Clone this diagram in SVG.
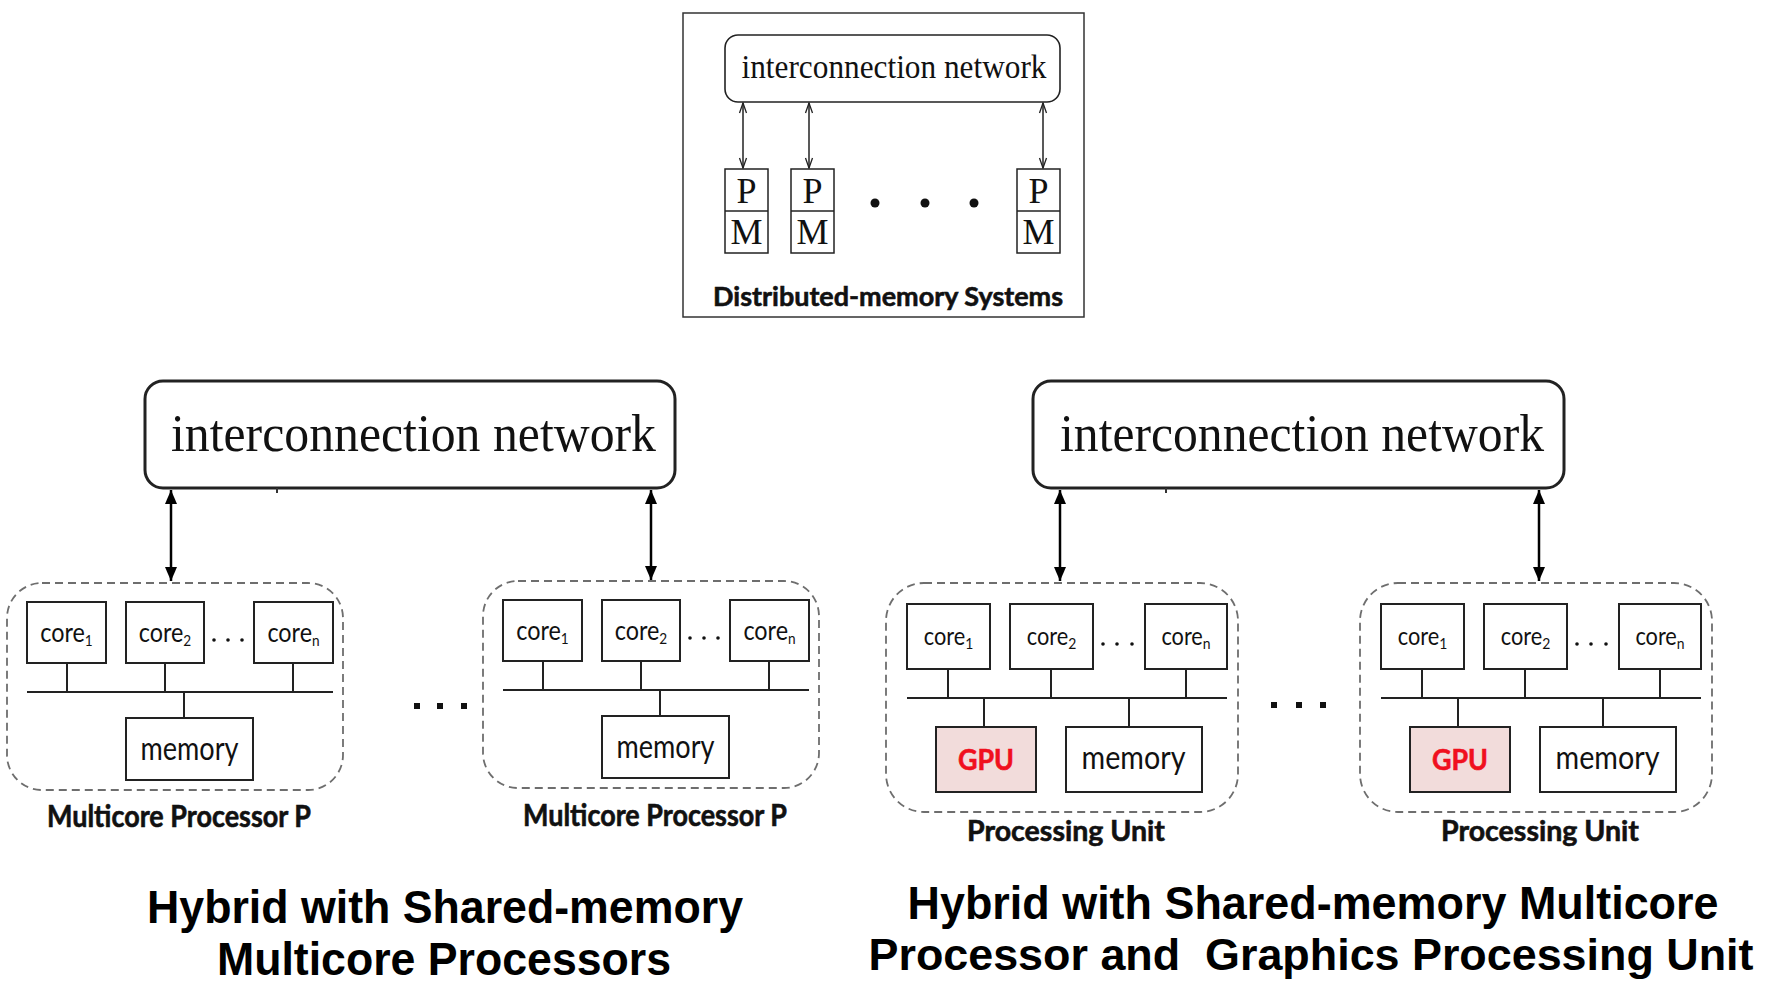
<svg xmlns="http://www.w3.org/2000/svg" width="1774" height="986" viewBox="0 0 1774 986">
<style>
.ser{font-family:"Liberation Serif","Times New Roman",serif;fill:#111}
.lab{font-family:Lato,"Open Sans",sans-serif;fill:#111}
.bold{font-weight:bold;stroke:#111;stroke-width:0.6}
.title{font-family:"Liberation Sans",Arial,sans-serif;font-weight:bold;font-size:47px;fill:#000}
.box{fill:#fff;stroke:#222;stroke-width:2}
.gpu{fill:#f2dcdb;stroke:#222;stroke-width:2}
.gput{fill:#f0101e;stroke:#f0101e}
.dash{fill:none;stroke:#6e6e6e;stroke-width:1.8;stroke-dasharray:8 5}
.net{fill:#fff;stroke:#222;stroke-width:3}
.wire{stroke:#222;stroke-width:2;fill:none}
.arr{stroke:#000;stroke-width:2.5;fill:none;marker-start:url(#ah);marker-end:url(#ah)}
.arr2{stroke:#222;stroke-width:1.5;fill:none;marker-start:url(#oh);marker-end:url(#oh)}
.dot{fill:#111}
.cl{font-size:27.5px;text-anchor:middle}
.cr{font-size:25px;text-anchor:middle}
.sub{font-size:16px}
</style>
<defs>
<marker id="ah" viewBox="0 0 14 12" refX="14" refY="6" markerWidth="14" markerHeight="12" markerUnits="userSpaceOnUse" orient="auto-start-reverse"><path d="M0,0 L14,6 L0,12 z" fill="#000"/></marker>
<marker id="oh" viewBox="-1 -1 12 10" refX="10" refY="4" markerWidth="12" markerHeight="10" markerUnits="userSpaceOnUse" orient="auto-start-reverse"><path d="M0,0.5 L10,4 L0,7.5" fill="none" stroke="#222" stroke-width="1.3"/></marker>
</defs>
<rect width="1774" height="986" fill="#fff"/>

<!-- Distributed-memory system -->
<g id="distributed">
<rect x="683" y="13" width="401" height="304" fill="#fff" stroke="#333" stroke-width="1.5"/>
<g id="top-net"><rect x="725" y="35" width="335" height="67" rx="13" fill="#fff" stroke="#222" stroke-width="1.6"/>
<text class="ser" x="894" y="78" font-size="34" text-anchor="middle" textLength="305" lengthAdjust="spacingAndGlyphs">interconnection network</text></g>
<g id="pm1"><rect x="725" y="169" width="43" height="84" fill="#fff" stroke="#222" stroke-width="1.5"/><line x1="725" y1="211" x2="768" y2="211" stroke="#222" stroke-width="1.5"/>
<text class="ser" x="746.5" y="203" font-size="36" text-anchor="middle">P</text><text class="ser" x="746.5" y="244" font-size="36" text-anchor="middle">M</text></g>
<g id="pm2"><rect x="791" y="169" width="43" height="84" fill="#fff" stroke="#222" stroke-width="1.5"/><line x1="791" y1="211" x2="834" y2="211" stroke="#222" stroke-width="1.5"/>
<text class="ser" x="812.5" y="203" font-size="36" text-anchor="middle">P</text><text class="ser" x="812.5" y="244" font-size="36" text-anchor="middle">M</text></g>
<g id="pm3"><rect x="1017" y="169" width="43" height="84" fill="#fff" stroke="#222" stroke-width="1.5"/><line x1="1017" y1="211" x2="1060" y2="211" stroke="#222" stroke-width="1.5"/>
<text class="ser" x="1038.5" y="203" font-size="36" text-anchor="middle">P</text><text class="ser" x="1038.5" y="244" font-size="36" text-anchor="middle">M</text></g>
<circle class="dot" cx="875" cy="203" r="4.5"/><circle class="dot" cx="925" cy="203" r="4.5"/><circle class="dot" cx="974" cy="203" r="4.5"/>
<text class="lab bold" x="888" y="306" font-size="27.5" text-anchor="middle" textLength="350" lengthAdjust="spacingAndGlyphs">Distributed-memory Systems</text>
</g>

<!-- Left hybrid -->
<g id="left-net"><rect class="net" x="145" y="381" width="530" height="107" rx="18"/>
<text class="ser" x="413.5" y="451" font-size="53" text-anchor="middle" textLength="485" lengthAdjust="spacingAndGlyphs">interconnection network</text>
<line x1="277" y1="488" x2="277" y2="493" stroke="#333" stroke-width="2"/></g>

<g id="left-pu1">
<rect class="dash" x="7" y="583" width="336" height="207" rx="35"/>
<g id="l1-core1"><rect class="box" x="27" y="602" width="79" height="61"/><text class="lab cl" transform="translate(66.5,642) scale(0.85,1)">core<tspan class="sub" dy="4">1</tspan></text></g>
<g id="l1-core2"><rect class="box" x="126" y="602" width="78" height="61"/><text class="lab cl" transform="translate(165,642) scale(0.85,1)">core<tspan class="sub" dy="4">2</tspan></text></g>
<g id="l1-coren"><rect class="box" x="254" y="602" width="79" height="61"/><text class="lab cl" transform="translate(293.5,642) scale(0.85,1)">core<tspan class="sub" dy="4">n</tspan></text></g>
<circle class="dot" cx="214" cy="640" r="1.8"/><circle class="dot" cx="228" cy="640" r="1.8"/><circle class="dot" cx="242" cy="640" r="1.8"/>
<path class="wire" d="M67,663V692M165,663V692M293,663V692M27,692H333M184,692V718"/>
<g id="l1-mem"><rect class="box" x="126" y="718" width="127" height="62"/><text class="lab" x="189.5" y="760" font-size="33" text-anchor="middle" textLength="98" lengthAdjust="spacingAndGlyphs">memory</text></g>
<text class="lab bold" x="179" y="827" font-size="30" text-anchor="middle" textLength="264" lengthAdjust="spacingAndGlyphs">Multicore Processor P</text>
</g>

<g id="left-pu2" transform="translate(476,-2)">
<rect class="dash" x="7" y="583" width="336" height="207" rx="35"/>
<g id="l2-core1"><rect class="box" x="27" y="602" width="79" height="61"/><text class="lab cl" transform="translate(66.5,642) scale(0.85,1)">core<tspan class="sub" dy="4">1</tspan></text></g>
<g id="l2-core2"><rect class="box" x="126" y="602" width="78" height="61"/><text class="lab cl" transform="translate(165,642) scale(0.85,1)">core<tspan class="sub" dy="4">2</tspan></text></g>
<g id="l2-coren"><rect class="box" x="254" y="602" width="79" height="61"/><text class="lab cl" transform="translate(293.5,642) scale(0.85,1)">core<tspan class="sub" dy="4">n</tspan></text></g>
<circle class="dot" cx="214" cy="640" r="1.8"/><circle class="dot" cx="228" cy="640" r="1.8"/><circle class="dot" cx="242" cy="640" r="1.8"/>
<path class="wire" d="M67,663V692M165,663V692M293,663V692M27,692H333M184,692V718"/>
<g id="l2-mem"><rect class="box" x="126" y="718" width="127" height="62"/><text class="lab" x="189.5" y="760" font-size="33" text-anchor="middle" textLength="98" lengthAdjust="spacingAndGlyphs">memory</text></g>
<text class="lab bold" x="179" y="828" font-size="30" text-anchor="middle" textLength="264" lengthAdjust="spacingAndGlyphs">Multicore Processor P</text>
</g>
<rect class="dot" x="414" y="703" width="6" height="6"/><rect class="dot" x="437" y="703" width="6" height="6"/><rect class="dot" x="461" y="703" width="6" height="6"/>

<!-- Right hybrid -->
<g id="right-net"><rect class="net" x="1033" y="381" width="531" height="107" rx="18"/>
<text class="ser" x="1302" y="451" font-size="53" text-anchor="middle" textLength="484" lengthAdjust="spacingAndGlyphs">interconnection network</text>
<line x1="1166" y1="488" x2="1166" y2="493" stroke="#333" stroke-width="2"/></g>

<g id="right-pu1">
<rect class="dash" x="886" y="583" width="352" height="229" rx="38"/>
<g id="r1-core1"><rect class="box" x="907" y="604" width="83" height="65"/><text class="lab cr" transform="translate(948.5,645) scale(0.87,1)">core<tspan class="sub" dy="4">1</tspan></text></g>
<g id="r1-core2"><rect class="box" x="1010" y="604" width="83" height="65"/><text class="lab cr" transform="translate(1051.5,645) scale(0.87,1)">core<tspan class="sub" dy="4">2</tspan></text></g>
<g id="r1-coren"><rect class="box" x="1145" y="604" width="82" height="65"/><text class="lab cr" transform="translate(1186,645) scale(0.87,1)">core<tspan class="sub" dy="4">n</tspan></text></g>
<circle class="dot" cx="1103" cy="644" r="1.8"/><circle class="dot" cx="1117" cy="644" r="1.8"/><circle class="dot" cx="1132" cy="644" r="1.8"/>
<path class="wire" d="M948,669V698M1051,669V698M1186,669V698M907,698H1227M984,698V727M1129,698V727"/>
<g id="r1-gpu"><rect class="gpu" x="936" y="727" width="100" height="65"/><text class="lab bold gput" x="986" y="770" font-size="29" text-anchor="middle" textLength="56" lengthAdjust="spacingAndGlyphs">GPU</text></g>
<g id="r1-mem"><rect class="box" x="1066" y="727" width="136" height="65"/><text class="lab" x="1133.5" y="769" font-size="32" text-anchor="middle" textLength="104" lengthAdjust="spacingAndGlyphs">memory</text></g>
<text class="lab bold" x="1066" y="841" font-size="29" text-anchor="middle" textLength="198" lengthAdjust="spacingAndGlyphs">Processing Unit</text>
</g>

<g id="right-pu2" transform="translate(474,0)">
<rect class="dash" x="886" y="583" width="352" height="229" rx="38"/>
<g id="r2-core1"><rect class="box" x="907" y="604" width="83" height="65"/><text class="lab cr" transform="translate(948.5,645) scale(0.87,1)">core<tspan class="sub" dy="4">1</tspan></text></g>
<g id="r2-core2"><rect class="box" x="1010" y="604" width="83" height="65"/><text class="lab cr" transform="translate(1051.5,645) scale(0.87,1)">core<tspan class="sub" dy="4">2</tspan></text></g>
<g id="r2-coren"><rect class="box" x="1145" y="604" width="82" height="65"/><text class="lab cr" transform="translate(1186,645) scale(0.87,1)">core<tspan class="sub" dy="4">n</tspan></text></g>
<circle class="dot" cx="1103" cy="644" r="1.8"/><circle class="dot" cx="1117" cy="644" r="1.8"/><circle class="dot" cx="1132" cy="644" r="1.8"/>
<path class="wire" d="M948,669V698M1051,669V698M1186,669V698M907,698H1227M984,698V727M1129,698V727"/>
<g id="r2-gpu"><rect class="gpu" x="936" y="727" width="100" height="65"/><text class="lab bold gput" x="986" y="770" font-size="29" text-anchor="middle" textLength="56" lengthAdjust="spacingAndGlyphs">GPU</text></g>
<g id="r2-mem"><rect class="box" x="1066" y="727" width="136" height="65"/><text class="lab" x="1133.5" y="769" font-size="32" text-anchor="middle" textLength="104" lengthAdjust="spacingAndGlyphs">memory</text></g>
<text class="lab bold" x="1066" y="841" font-size="29" text-anchor="middle" textLength="198" lengthAdjust="spacingAndGlyphs">Processing Unit</text>
</g>
<rect class="dot" x="1271" y="702" width="6" height="6"/><rect class="dot" x="1296" y="702" width="6" height="6"/><rect class="dot" x="1320" y="702" width="6" height="6"/>

<!-- Connectors -->
<g id="connectors">
<line class="arr2" x1="743" y1="103" x2="743" y2="168"/>
<line class="arr2" x1="809" y1="103" x2="809" y2="168"/>
<line class="arr2" x1="1043" y1="103" x2="1043" y2="168"/>
<line class="arr" x1="171" y1="490" x2="171" y2="581"/>
<line class="arr" x1="651" y1="490" x2="651" y2="580"/>
<line class="arr" x1="1060" y1="490" x2="1060" y2="581"/>
<line class="arr" x1="1539" y1="490" x2="1539" y2="581"/>
</g>

<!-- Titles -->
<text class="title" x="445" y="923" text-anchor="middle" textLength="596" lengthAdjust="spacingAndGlyphs">Hybrid with Shared-memory</text>
<text class="title" x="444" y="975" text-anchor="middle" textLength="454" lengthAdjust="spacingAndGlyphs">Multicore Processors</text>
<text class="title" x="1313" y="919" text-anchor="middle" textLength="811" lengthAdjust="spacingAndGlyphs">Hybrid with Shared-memory Multicore</text>
<text class="title" x="1311" y="970" text-anchor="middle" style="font-size:45px" textLength="885" lengthAdjust="spacingAndGlyphs" xml:space="preserve">Processor and  Graphics Processing Unit</text>
</svg>
